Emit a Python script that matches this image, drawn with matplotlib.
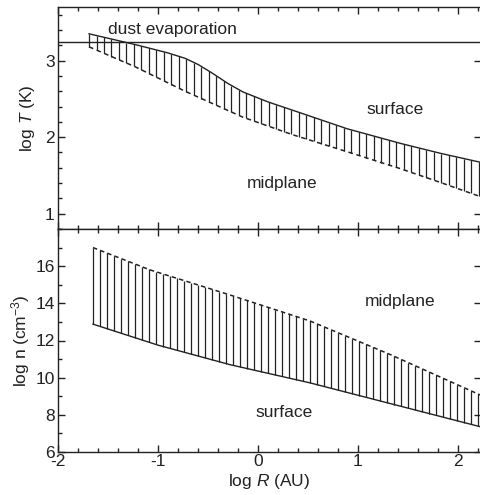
import numpy as np
import matplotlib
matplotlib.use("Agg")
import matplotlib.pyplot as plt
from matplotlib.ticker import MultipleLocator

plt.rcParams['font.family'] = ['Liberation Sans', 'DejaVu Sans']
plt.rcParams['mathtext.fontset'] = 'custom'
plt.rcParams['mathtext.rm'] = 'Liberation Sans'
plt.rcParams['mathtext.it'] = 'Liberation Sans:italic'
plt.rcParams['axes.unicode_minus'] = False

# ---- data ----
# Top panel: log T vs log R
R_T = [-1.69, -1.23, -0.9, -0.73, -0.6, -0.45, -0.3, -0.15, 0.1, 0.35, 0.89, 1.42, 1.82, 2.23]
T_surface = [3.35, 3.21, 3.10, 3.03, 2.95, 2.83, 2.70, 2.59, 2.46, 2.35, 2.11, 1.92, 1.79, 1.67]
R_Tm = [-1.69, -1.23, -0.73, -0.15, 0.35, 0.89, 1.42, 1.82, 2.23]
T_midplane = [3.18, 2.92, 2.60, 2.26, 2.03, 1.81, 1.59, 1.41, 1.22]
T_dust = 3.24

# Bottom panel: log n vs log R
R_n = [-1.65, -1.08, -0.28, 0.52, 1.32, 2.23]
n_midplane = [17.0, 15.8, 14.45, 13.05, 11.25, 9.05]
R_ns = [-1.65, -1.0, -0.28, 0.52, 1.32, 2.23]
n_surface = [12.88, 11.75, 10.7, 9.72, 8.61, 7.35]

xticks = [-2, -1, 0, 1, 2]
T_ticks = [1, 2, 3]
n_ticks = [6, 8, 10, 12, 14, 16]

c = '#222222'
fs = 12.5

fig = plt.figure(figsize=(4.8, 4.95), dpi=100)
ax1 = fig.add_axes([58/480, 1-229/495, 423/480, 222/495])
ax2 = fig.add_axes([58/480, 1-452/495, 423/480, 223/495])

for ax in (ax1, ax2):
    ax.set_xlim(-2, 2.23)
    ax.set_xticks(xticks)
    ax.xaxis.set_minor_locator(MultipleLocator(0.2))
    ax.tick_params(which='both', direction='in', top=True, right=True,
                   colors=c, labelsize=fs, width=1.0)
    ax.tick_params(which='major', length=5)
    ax.tick_params(which='minor', length=3.2, right=False)
    ax.tick_params(axis='y', pad=2.5)
    ax.tick_params(axis='x', pad=1.5)
    for s in ax.spines.values():
        s.set_color(c)
        s.set_linewidth(1.0)

# Top panel
ax1.set_ylim(0.8, 3.7)
ax1.set_yticks(T_ticks)
ax1.yaxis.set_minor_locator(MultipleLocator(0.2))
ax1.tick_params(axis='x', labelbottom=False)
ax1.axhline(T_dust, color=c, lw=1.0)
ax1.plot(R_T, T_surface, color=c, lw=1.0)
ax1.plot(R_Tm, T_midplane, color=c, lw=1.1, ls=(0, (3.0, 2.4)))
xs = np.arange(R_T[0], 2.23, 0.075)
ax1.vlines(xs, np.interp(xs, R_Tm, T_midplane), np.interp(xs, R_T, T_surface),
           color=c, lw=0.9)
ax1.text(-1.50, 3.40, 'dust evaporation', fontsize=fs, color=c, ha='left', va='center')
ax1.text(1.37, 2.36, 'surface', fontsize=fs, color=c, ha='center', va='center')
ax1.text(0.24, 1.40, 'midplane', fontsize=fs, color=c, ha='center', va='center')
ax1.set_ylabel('log $\\mathit{T}$ (K)', fontsize=fs, color=c)
ax1.yaxis.set_label_coords(-0.05, 0.5)

# Bottom panel
ax2.set_ylim(6, 18)
ax2.set_yticks(n_ticks)
ax2.yaxis.set_minor_locator(MultipleLocator(1))
ax2.plot(R_ns, n_surface, color=c, lw=1.0)
ax2.plot(R_n, n_midplane, color=c, lw=1.1, ls=(0, (2.9, 2.1)))
xs2 = np.arange(R_n[0], 2.23, 0.07)
ax2.vlines(xs2, np.interp(xs2, R_ns, n_surface), np.interp(xs2, R_n, n_midplane),
           color=c, lw=0.9)
ax2.text(1.42, 14.1, 'midplane', fontsize=fs, color=c, ha='center', va='center')
ax2.text(0.26, 8.1, 'surface', fontsize=fs, color=c, ha='center', va='center')
ax2.set_ylabel('log n (cm$^{-3}$)', fontsize=fs, color=c)
ax2.yaxis.set_label_coords(-0.062, 0.5)
ax2.set_xlabel('log $\\mathit{R}$ (AU)', fontsize=fs, color=c, labelpad=2)

fig.savefig('out.png', dpi=100)
